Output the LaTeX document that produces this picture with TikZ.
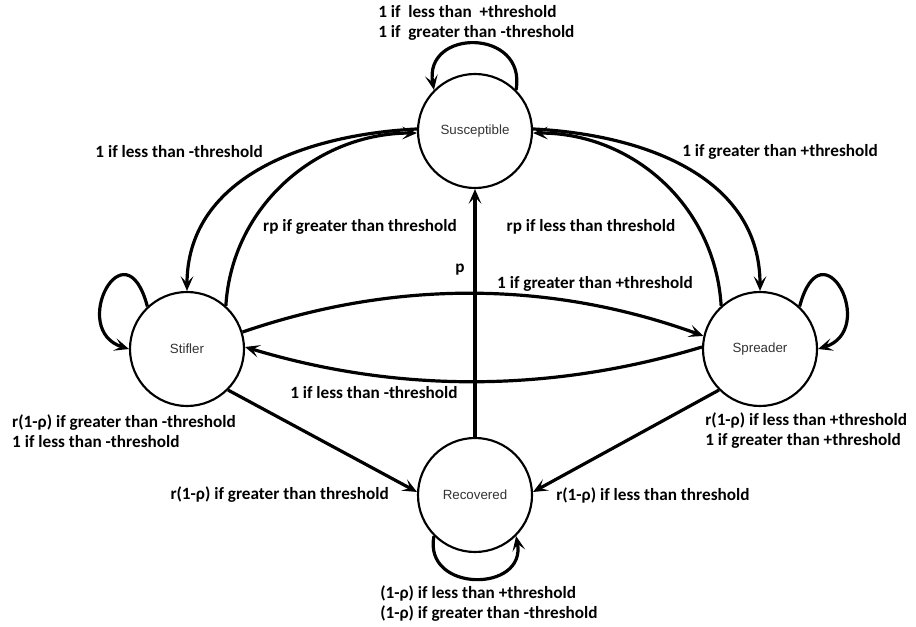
\documentclass[tikz,border=0pt]{standalone}
\usepackage{fontspec}
\setmainfont{Carlito}
\newfontfamily\statefont{Liberation Sans}
\usetikzlibrary{arrows.meta}

\begin{document}
\begin{tikzpicture}[x=0.75pt,y=0.75pt,yscale=-1,xscale=1,
  state/.style={draw,circle,line width=1.6pt,minimum size=85.5pt,inner sep=0pt,
    font=\statefont\fontsize{10}{12}\selectfont,text=black!80},
  trans/.style={line width=2.4pt,-{Stealth[length=11pt,width=9.5pt,inset=5pt]}},
  lbl/.style={font=\bfseries\fontsize{12.9}{15}\selectfont,inner sep=0pt,align=left}]
\useasboundingbox (0,0) rectangle (916,627);

%States
\node[state] (sus) at (475,131) {Susceptible};
\node[state] (sti) at (187,349) {Stifler};
\node[state] (spr) at (760,349) {Spreader};
\node[state] (rec) at (475,495) {Recovered};

%Self loops
\draw[trans] (sus.45) .. controls (527,28) and (423,28) .. (sus.135);
\draw[trans] (sti.133) .. controls (125,222) and (68,330) .. (sti.180);
\draw[trans] (spr.47) .. controls (822,222) and (879,330) .. (spr.0);
\draw[trans] (rec.225) .. controls (423,593) and (527,593) .. (rec.315);

%Curve Lines: Susceptible <-> Stifler
\draw[trans] (sus.178) .. controls (300,135) and (187,180) .. (sti.90);
\draw[trans] (sti.48) .. controls (232,205) and (318,133) .. (sus.182);
%Curve Lines: Susceptible <-> Spreader
\draw[trans] (sus.2) .. controls (650,135) and (760,180) .. (spr.90);
\draw[trans] (spr.132) .. controls (715,205) and (632,133) .. (sus.-2);
%Curve Lines: Stifler <-> Spreader
\draw[trans] (sti.17) .. controls (394,280) and (549,280) .. (spr.167);
\draw[trans] (spr.178) .. controls (550,393) and (397,393) .. (sti.2);

%Straight Lines
\draw[trans] (rec.north) -- (sus.south);
\draw[trans] (sti.-45) -- (rec.177);
\draw[trans] (spr.-135) -- (rec.3);

%Text Nodes
\node[lbl,anchor=west] (lsus) at (378,23) {1 if~ less than~ +threshold\\1 if~ greater than -threshold};
\node[lbl,anchor=east] (lsussti) at (263,152) {1 if less than -threshold};
\node[lbl,anchor=west] (lsusspr) at (682,152) {1 if greater than +threshold};
\node[lbl] (lstisus) at (360,227) {rp if greater than threshold};
\node[lbl] (lsprsus) at (591,227) {rp if less than threshold};
\node[lbl] (lrecsus) at (460,270) {p};
\node[lbl] (lstispr) at (595,284) {1 if greater than +threshold};
\node[lbl,anchor=west] (lsprsti) at (290,393) {1 if less than -threshold};
\node[lbl,anchor=east] (lsti) at (236,431) {r(1-ρ) if greater than -threshold\\1 if less than -threshold};
\node[lbl,anchor=west] (lspr) at (705,431) {r(1-ρ) if less than +threshold\\1 if greater than +threshold};
\node[lbl,anchor=east] (lstirec) at (389,495) {r(1-ρ) if greater than threshold};
\node[lbl,anchor=west] (lsprrec) at (556,495) {r(1-ρ) if less than threshold};
\node[lbl,anchor=west] (lrec) at (380,604) {(1-ρ) if less than +threshold\\(1-ρ) if greater than -threshold};

\end{tikzpicture}
\end{document}
